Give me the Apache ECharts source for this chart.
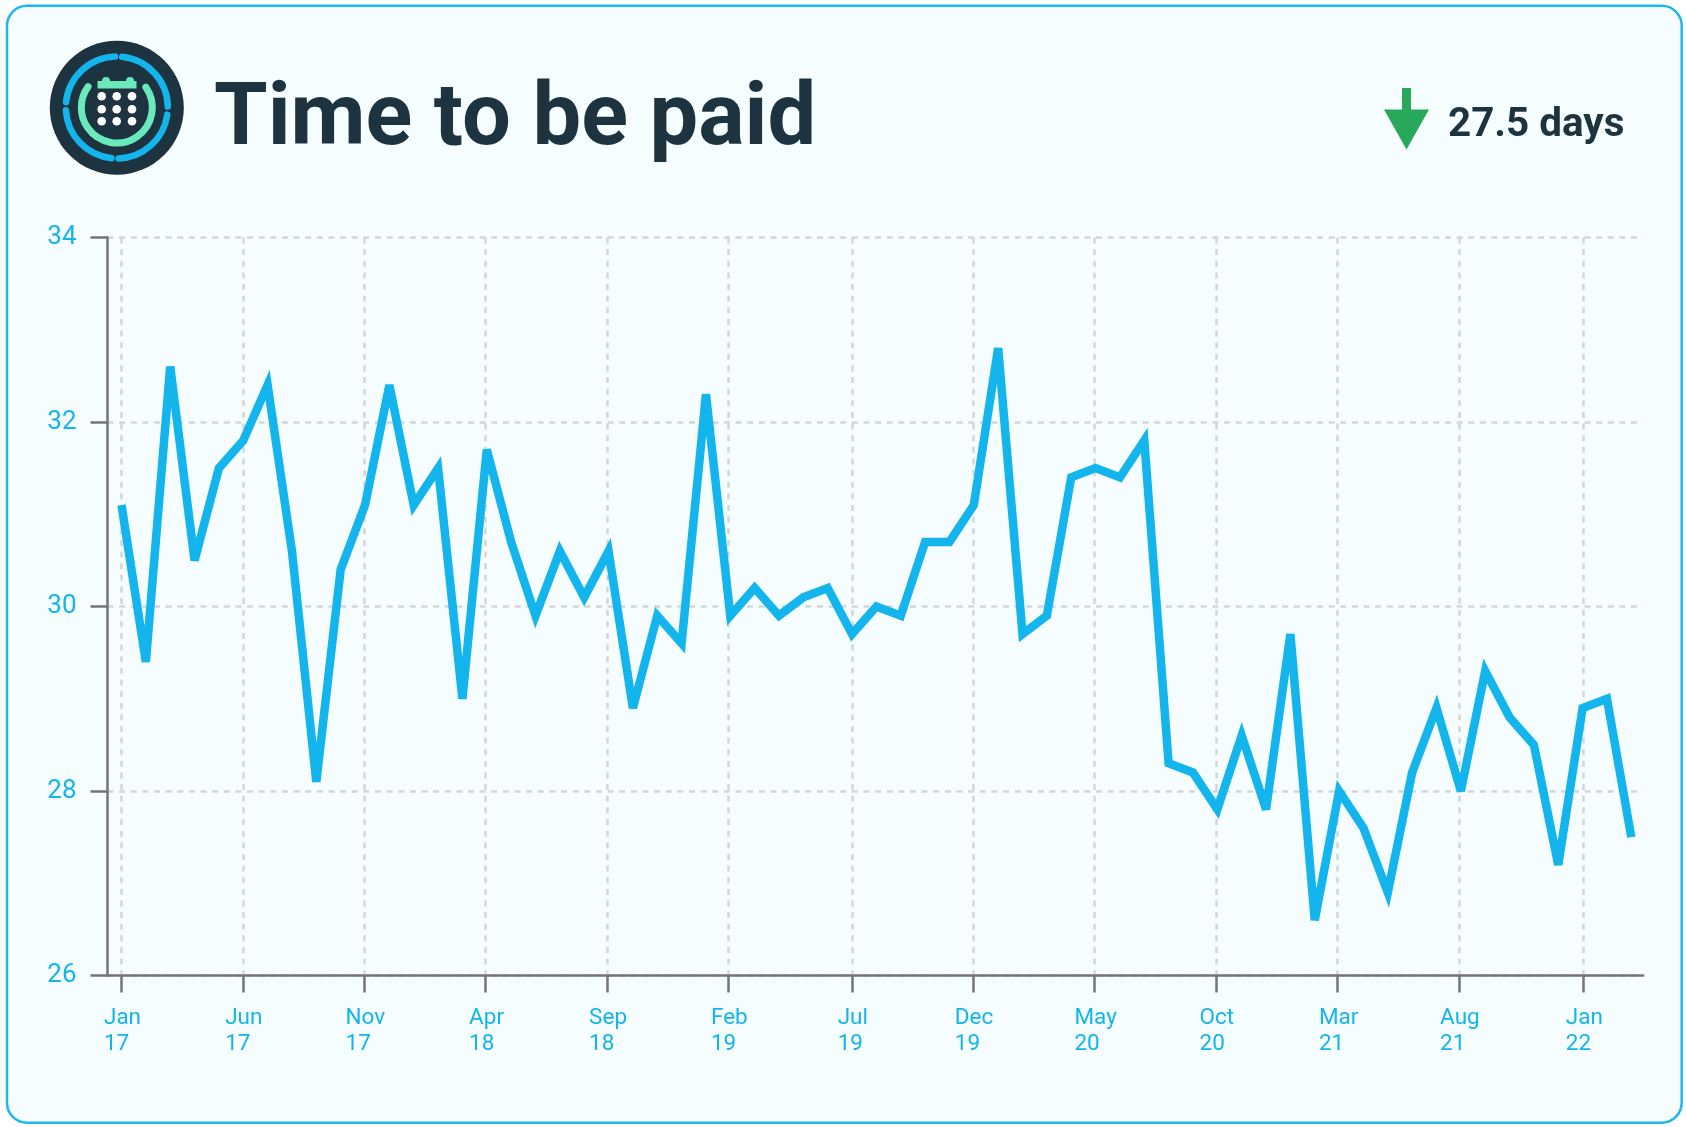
<!DOCTYPE html>
<html lang="en">
  <head>
    <meta charset="UTF-8" />
    <title>Time to be paid</title>
    <style>
      html,
      body {
        width: 100%;
        height: 100%;
        overflow: hidden;
        margin: 0;
        background: #fff;
      }
      #main {
        width: 1686px;
        height: 1127px;
      }
    </style>
  </head>
  <body>
    <div id="main"></div>
    <script src="https://cdn.jsdelivr.net/npm/echarts@6/dist/echarts.min.js"></script>
    <script>
      // days to be paid, one value per month, Jan 17 to Mar 22
      const days = [
        31.1, 29.4, 32.6, 30.5, 31.5, 31.8, 32.4, 30.6, 28.1, 30.4, 31.1, 32.4,
        31.1, 31.5, 29.0, 31.7, 30.7, 29.9, 30.6, 30.1, 30.6, 28.9, 29.9, 29.6,
        32.3, 29.9, 30.2, 29.9, 30.1, 30.2, 29.7, 30.0, 29.9, 30.7, 30.7, 31.1,
        32.8, 29.7, 29.9, 31.4, 31.5, 31.4, 31.8, 28.3, 28.2, 27.8, 28.6, 27.8,
        29.7, 26.6, 28.0, 27.6, 26.9, 28.2, 28.9, 28.0, 29.3, 28.8, 28.5, 27.2,
        28.9, 29.0, 27.5,
      ];
      // tick positions in month units (the source rounds them slightly)
      const tickMonths = [
        0, 4.98, 9.97, 14.95, 19.94, 24.92, 29.99, 34.97, 39.96, 44.94, 49.94,
        54.92, 60.03,
      ];
      const tickMonthNames = ["Jan", "Jun", "Nov", "Apr", "Sep", "Feb", "Jul", "Dec", "May", "Oct", "Mar", "Aug", "Jan"];
      const tickYears = ["17", "17", "17", "18", "18", "19", "19", "19", "20", "20", "21", "21", "22"];
      const titleText = "Time to be paid";
      const latestText = "27.5 days";

      const BLUE = "#14b5ec";
      const DARK = "#1e3340";
      const GREEN = "#6aeabc";
      const FONT = "Roboto";
      const GRID_LINE = { color: "#d2d6d8", width: 2.5, type: [6, 5.63] };

      // 圆角卡片背景
      const cardBackground = {
        type: "rect",
        silent: true,
        z: -10,
        shape: { x: 7, y: 5.7, width: 1674.7, height: 1117, r: 20 },
        style: { fill: "#f5fdff", stroke: "#1fb8ec", lineWidth: 2.5 },
      };

      function ringArc(r, from, to, color, width) {
        return {
          type: "arc",
          shape: {
            cx: 116.8,
            cy: 107.5,
            r: r,
            startAngle: (from * Math.PI) / 180,
            endAngle: (to * Math.PI) / 180,
            clockwise: true,
          },
          style: { stroke: color, lineWidth: width, lineCap: "round", fill: null },
        };
      }

      // 标题左边的日历图标
      function calendarIcon() {
        const parts = [
          { type: "circle", shape: { cx: 116.8, cy: 107.7, r: 67 }, style: { fill: DARK } },
          ringArc(51, -84, -1, BLUE, 6.5),
          ringArc(51, 8, 88, BLUE, 6.5),
          ringArc(51, 96, 177, BLUE, 6.5),
          ringArc(51, 186, 268, BLUE, 6.5),
          ringArc(35.5, -35, 216, GREEN, 7),
          { type: "rect", shape: { x: 97.5, y: 81, width: 39, height: 7.5 }, style: { fill: GREEN } },
          { type: "circle", shape: { cx: 106, cy: 81, r: 4 }, style: { fill: GREEN } },
          { type: "circle", shape: { cx: 130, cy: 81, r: 4 }, style: { fill: GREEN } },
        ];
        [96.3, 109.3, 121.3].forEach(function (cy) {
          [101.7, 116.7, 132].forEach(function (cx) {
            parts.push({ type: "circle", shape: { cx: cx, cy: cy, r: 4.3 }, style: { fill: "#fff" } });
          });
        });
        return { type: "group", silent: true, children: parts };
      }

      const downArrow = {
        type: "polygon",
        silent: true,
        shape: {
          points: [
            [1402, 88], [1411, 88], [1411, 109.5], [1429, 109.5],
            [1406.5, 149.5], [1384, 109.5], [1402, 109.5],
          ],
        },
        style: { fill: "#27a85a" },
      };

      const latestLabel = {
        type: "text",
        silent: true,
        x: 1448,
        y: 126,
        style: {
          text: latestText,
          fill: DARK,
          font: "700 40.4px " + FONT,
          textVerticalAlign: "middle",
        },
      };

      // 月份标签：两行左对齐，整块按月份文字宽度居中
      const labelCtx = document.createElement("canvas").getContext("2d");
      labelCtx.font = "22.5px " + FONT;
      const labelRich = {};
      tickMonthNames.forEach(function (name) {
        labelRich[name] = {
          width: labelCtx.measureText(name).width,
          align: "left",
          color: BLUE,
          fontFamily: FONT,
          fontSize: 22.5,
          lineHeight: 26,
        };
      });

      const option = {
        animation: false,
        backgroundColor: "#fff",
        textStyle: { fontFamily: FONT },
        title: {
          text: titleText,
          left: 214,
          top: 72,
          padding: 0,
          textStyle: { color: DARK, fontFamily: FONT, fontWeight: 700, fontSize: 86.6, lineHeight: 100 },
        },
        graphic: [cardBackground, calendarIcon(), downArrow, latestLabel],
        grid: { left: 107.5, right: 43, top: 237.5, bottom: 151.5 },
        xAxis: {
          type: "value",
          min: -0.575,
          max: 62.48,
          axisLine: { onZero: false, lineStyle: { color: "#757575", width: 2.5 } },
          axisTick: {
            customValues: tickMonths,
            length: 17,
            lineStyle: { color: "#757575", width: 2.5 },
          },
          axisLabel: {
            customValues: tickMonths,
            margin: 30,
            padding: [0, 0, 0, 2],
            formatter: function (value) {
              const i = tickMonths.indexOf(value);
              const name = tickMonthNames[i];
              return "{" + name + "|" + name + "}\n{" + name + "|" + tickYears[i] + "}";
            },
            rich: labelRich,
          },
          splitLine: { show: true, lineStyle: GRID_LINE },
        },
        yAxis: {
          type: "value",
          min: 26,
          max: 34,
          interval: 2,
          axisLine: { show: true, onZero: false, lineStyle: { color: "#757575", width: 2.5 } },
          axisTick: { show: true, length: 17, lineStyle: { color: "#757575", width: 2.5 } },
          axisLabel: { margin: 31, padding: [6, 0, 0, 0], color: BLUE, fontFamily: FONT, fontSize: 26 },
          splitLine: { show: true, lineStyle: GRID_LINE },
        },
        series: [
          {
            name: titleText,
            type: "line",
            data: days.map(function (v, i) {
              return [i, v];
            }),
            showSymbol: false,
            symbol: "none",
            lineStyle: { color: BLUE, width: 8.5, join: "miter", cap: "butt", miterLimit: 4 },
          },
        ],
      };

      const myChart = echarts.init(document.getElementById("main"));
      myChart.setOption(option);
    </script>
  </body>
</html>
